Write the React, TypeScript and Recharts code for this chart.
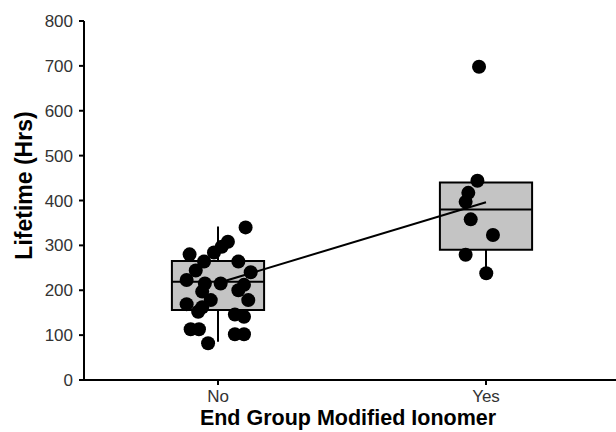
import React from "react";
import {
  ComposedChart,
  Scatter,
  Line,
  XAxis,
  YAxis,
  ReferenceArea,
  ReferenceLine,
} from "recharts";

// Categories (x positions 1, 2)
const categories = ["No", "Yes"];
const yTicks = [0, 100, 200, 300, 400, 500, 600, 700, 800];

// Individual observations, "No" group: lifetime (Hrs) and horizontal jitter offset
const noValues = [340, 308, 297, 284, 280, 264, 264, 244, 240, 223, 215, 215, 212, 200, 197, 178, 178, 169, 162, 152, 146, 141, 113, 113, 102, 102, 82];
const noJitter = [0.103, 0.037, 0.014, -0.015, -0.106, -0.052, 0.076, -0.083, 0.122, -0.117, 0.01, -0.049, 0.097, 0.076, -0.059, -0.027, 0.113, -0.117, -0.059, -0.074, 0.063, 0.097, -0.102, -0.071, 0.063, 0.097, -0.037];

// "Yes" group
const yesValues = [698, 444, 417, 397, 358, 323, 279, 238];
const yesJitter = [-0.026, -0.032, -0.066, -0.076, -0.057, 0.026, -0.076, 0.001];

// Box summaries [No, Yes]
const q1 = [156, 290];
const median = [219, 380];
const q3 = [265, 440];
const whiskerLow = [85, 238];
const whiskerHigh = [342, 440];

// Means connecting line
const means = [216, 396];

const BOX_HALF = 0.172;
const FONT = "'Liberation Sans', Arial, Helvetica, sans-serif";

const points = [
  ...noValues.map((v, i) => ({ x: 1 + noJitter[i], y: v })),
  ...yesValues.map((v, i) => ({ x: 2 + yesJitter[i], y: v })),
];
const meanData = means.map((m, i) => ({ x: i + 1, y: m }));

const Dot = (props: any) => {
  const { cx, cy } = props;
  if (cx == null || cy == null) return null;
  return <circle cx={cx} cy={cy} r={7} fill="#000" />;
};

export default function App() {
  return (
    <div
      style={{
        position: "absolute",
        left: 0,
        top: 0,
        width: 616,
        height: 432,
        overflow: "hidden",
        background: "#fff",
      }}
    >
      <ComposedChart
        width={624}
        height={432}
        margin={{ top: 21, right: 4, bottom: 0, left: 0 }}
        style={{ fontFamily: FONT }}
      >
        <XAxis
          type="number"
          dataKey="x"
          domain={[0.5, 2.5]}
          ticks={[1, 2]}
          tickFormatter={(v: number) => categories[v - 1] ?? ""}
          allowDataOverflow
          height={52}
          stroke="#000"
          strokeWidth={2}
          tickSize={5}
          tickMargin={5}
          tick={{ fill: "#333", fontSize: 17, fontFamily: FONT }}
          label={{
            value: "End Group Modified Ionomer",
            position: "insideBottom",
            offset: 7,
            dx: -4,
            style: { fill: "#000", fontSize: 21.5, fontWeight: "bold", fontFamily: FONT },
          }}
        />
        <YAxis
          type="number"
          domain={[0, 800]}
          ticks={yTicks}
          width={84}
          stroke="#000"
          strokeWidth={2}
          tickSize={5}
          tickMargin={6}
          interval={0}
          tick={{ fill: "#333", fontSize: 17, fontFamily: FONT }}
          label={{
            value: "Lifetime (Hrs)",
            angle: -90,
            position: "insideLeft",
            offset: 24,
            dy: -15,
            style: { textAnchor: "middle", fill: "#000", fontSize: 23, fontWeight: "bold", fontFamily: FONT },
          }}
        />
        {categories.map((c, i) => (
          <ReferenceLine
            key={"wl" + c}
            segment={[
              { x: i + 1, y: whiskerLow[i] },
              { x: i + 1, y: q1[i] },
            ]}
            stroke="#000"
            strokeWidth={2}
          />
        ))}
        {categories.map((c, i) => (
          <ReferenceLine
            key={"wh" + c}
            segment={[
              { x: i + 1, y: q3[i] },
              { x: i + 1, y: whiskerHigh[i] },
            ]}
            stroke="#000"
            strokeWidth={2}
          />
        ))}
        {categories.map((c, i) => (
          <ReferenceArea
            key={"box" + c}
            x1={i + 1 - BOX_HALF}
            x2={i + 1 + BOX_HALF}
            y1={q1[i]}
            y2={q3[i]}
            fill="#c4c4c4"
            fillOpacity={1}
            stroke="#000"
            strokeWidth={2}
          />
        ))}
        {categories.map((c, i) => (
          <ReferenceLine
            key={"med" + c}
            segment={[
              { x: i + 1 - BOX_HALF, y: median[i] },
              { x: i + 1 + BOX_HALF, y: median[i] },
            ]}
            stroke="#000"
            strokeWidth={2}
          />
        ))}
        <Scatter data={points} dataKey="y" shape={<Dot />} isAnimationActive={false} />
        <Line
          data={meanData}
          dataKey="y"
          stroke="#000"
          strokeWidth={2}
          dot={false}
          activeDot={false}
          isAnimationActive={false}
          type="linear"
        />
      </ComposedChart>
    </div>
  );
}
